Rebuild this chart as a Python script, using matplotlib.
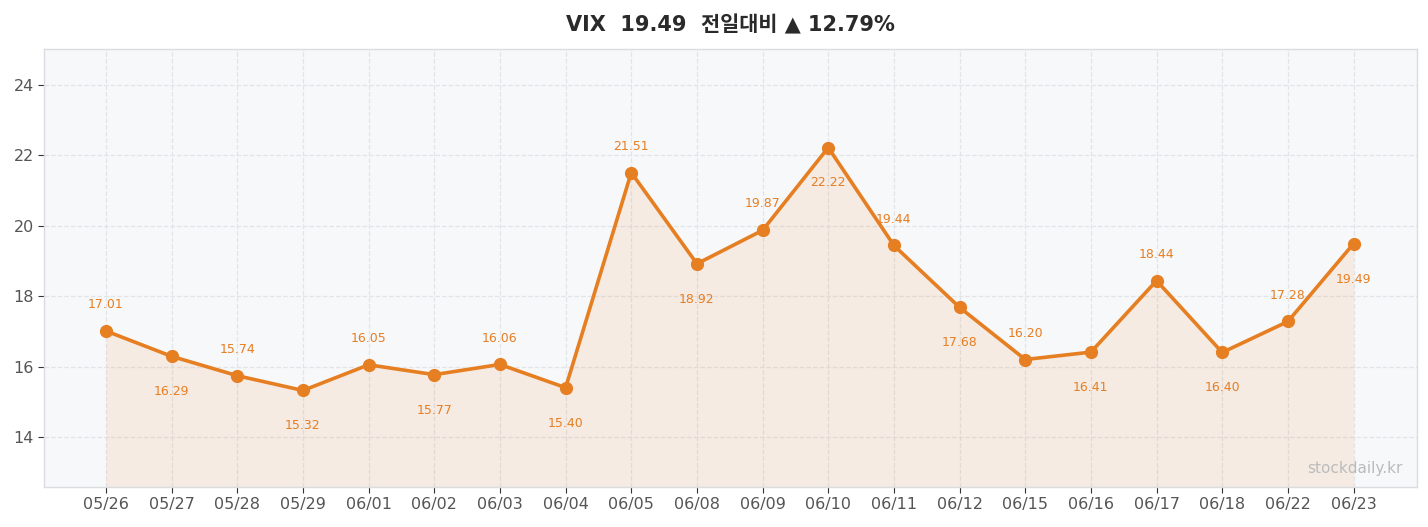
import matplotlib
matplotlib.use("Agg")
import matplotlib.pyplot as plt

plt.rcParams['font.family'] = ['DejaVu Sans', 'Noto Sans CJK KR']

dates = ["05/26", "05/27", "05/28", "05/29", "06/01", "06/02", "06/03", "06/04",
         "06/05", "06/08", "06/09", "06/10", "06/11", "06/12", "06/15", "06/16",
         "06/17", "06/18", "06/22", "06/23"]
vix = [17.01, 16.29, 15.74, 15.32, 16.05, 15.77, 16.06, 15.40,
       21.51, 18.92, 19.87, 22.22, 19.44, 17.68, 16.20, 16.41,
       18.44, 16.40, 17.28, 19.49]
y_ticks = [14, 16, 18, 20, 22, 24]

line_color = '#E67E22'

fig, ax = plt.subplots(figsize=(14.28, 5.27), dpi=100)
fig.subplots_adjust(left=0.031, right=0.992, top=0.907, bottom=0.076)
ax.set_facecolor('#F7F8FA')

x = list(range(len(vix)))
ax.fill_between(x, vix, 12.0, color=line_color, alpha=0.1, linewidth=0)
ax.plot(x, vix, color=line_color, linewidth=2.6, marker='o', markersize=8.5, zorder=3)

# labels alternate above / below the points
for i, v in enumerate(vix):
    if i % 2 == 0:
        off = 19
    else:
        off = -25.5
    ax.annotate(f"{v:.2f}", (i, v), xytext=(0, off), textcoords='offset points',
                ha='center', va='center', fontsize=9, color=line_color)

ax.set_xticks(x)
ax.set_xticklabels(dates)
ax.set_yticks(y_ticks)
ax.set_xlim(-0.94, 19.96)
ax.set_ylim(12.58, 25.02)
ax.tick_params(axis='both', labelsize=11.5, labelcolor='#555555', color='#333333', length=4)
ax.grid(True, linestyle='--', color='#E3E4E8', linewidth=0.9)
ax.set_axisbelow(True)
for s in ax.spines.values():
    s.set_color('#DADCE0')
    s.set_linewidth(1)

ax.text(0.99, 0.025, "stockdaily.kr", transform=ax.transAxes, ha='right', va='bottom',
        fontsize=11, color='#BBBBBB')

ax.set_title("VIX  19.49  전일대비 ▲ 12.79%", fontsize=15, fontweight='bold',
             color='#2A2A2A', pad=13)

fig.savefig("out.png", dpi=100)
